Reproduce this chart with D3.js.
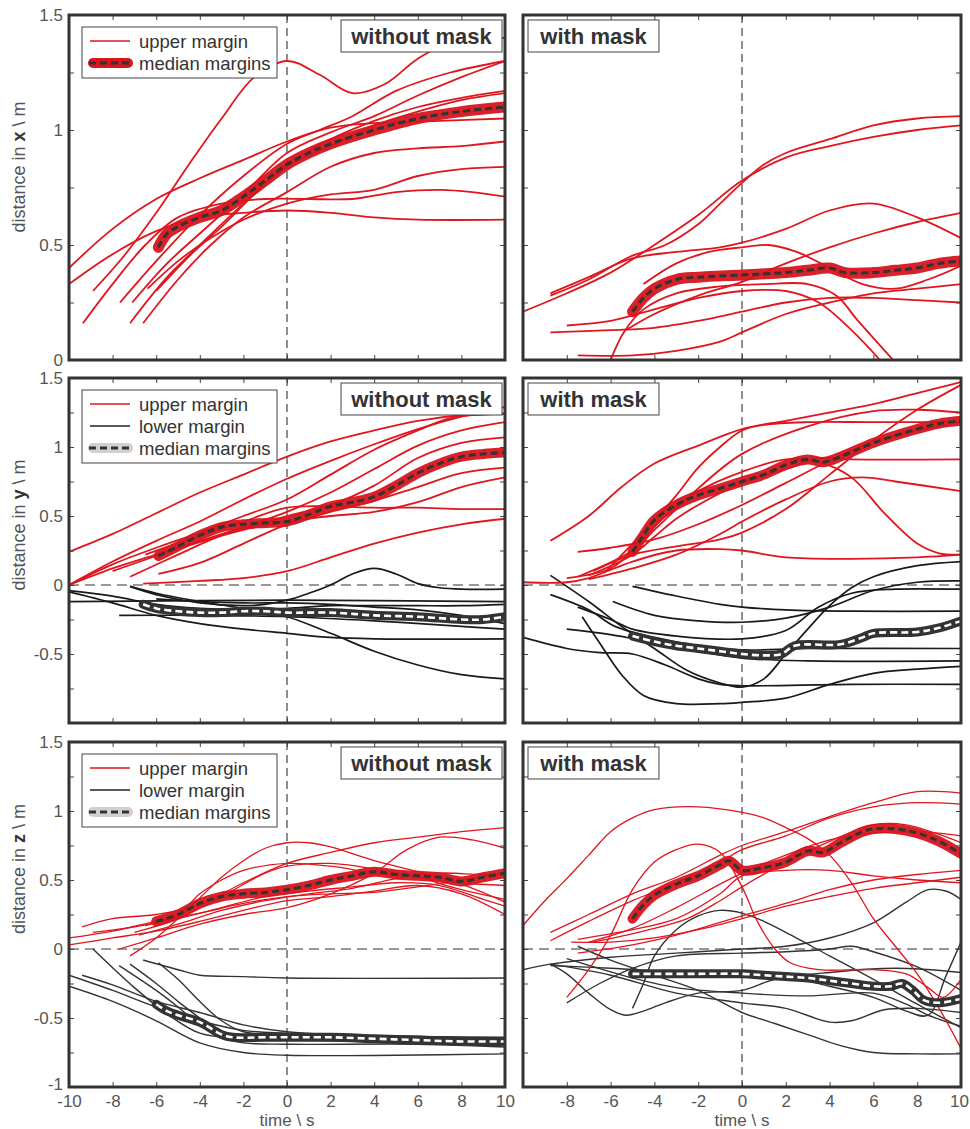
<!DOCTYPE html>
<html>
<head>
<meta charset="utf-8">
<script src="https://cdn.jsdelivr.net/npm/d3@7"></script>
<style>
  body { margin: 0; background: #fff; }
  text { font-family: "Liberation Sans", Arial, sans-serif; }
</style>
</head>
<body>
<svg width="970" height="1129"></svg>
<script>
// ---- tick values / labels ----
const timeTicksMinor = [-8, -6, -4, -2, 0, 2, 4, 6, 8];
const timeLabelsLeft = [-10, -8, -6, -4, -2, 0, 2, 4, 6, 8, 10];
const timeLabelsRight = [-8, -6, -4, -2, 0, 2, 4, 6, 8, 10];
const distTicksTop = [0.25, 0.5, 0.75, 1, 1.25];
const distTicksLow = [-0.75, -0.5, -0.25, 0, 0.25, 0.5, 0.75, 1, 1.25];
const distLabelsTop = [0, 0.5, 1, 1.5];
const distLabelsMid = [-0.5, 0, 0.5, 1, 1.5];
const distLabelsBot = [-1, -0.5, 0, 0.5, 1, 1.5];

// ---- distance in x, without mask ----
const xNoMaskUpper = [
  [[-8.9,0.30],[-7.5,0.45],[-6,0.64],[-4.5,0.85],[-3,1.05],[-1.5,1.23],[0,1.30],[1.5,1.24],[3,1.16],[4.5,1.20],[6,1.31],[7.5,1.38],[10,1.40]],
  [[-10,0.40],[-8,0.57],[-6,0.70],[-4,0.79],[-2,0.87],[0,0.95],[2,1.01],[4,1.03],[7,1.04],[10,1.05]],
  [[-10,0.33],[-8,0.46],[-6,0.56],[-4,0.62],[-2,0.64],[0,0.65],[2,0.64],[4,0.62],[6,0.61],[10,0.61]],
  [[-9.36,0.16],[-8,0.33],[-6.5,0.50],[-5,0.62],[-3,0.68],[-1,0.70],[1,0.70],[3,0.70],[5,0.73],[7,0.74],[8.5,0.73],[10,0.71]],
  [[-7.66,0.25],[-6,0.43],[-4,0.63],[-2,0.80],[0,0.94],[1.5,1.0],[3,1.06],[5,1.17],[7.5,1.25],[10,1.30]],
  [[-7.1,0.25],[-5.5,0.42],[-4,0.55],[-2,0.72],[0,0.90],[2,0.99],[4,1.06],[6,1.15],[8,1.23],[10,1.30]],
  [[-7.2,0.16],[-5.5,0.36],[-4,0.50],[-2,0.68],[0,0.85],[2,0.96],[4,1.04],[6,1.10],[8,1.14],[10,1.17]],
  [[-6.6,0.16],[-5,0.35],[-3.5,0.50],[-2,0.62],[0,0.73],[2,0.84],[4,0.90],[6,0.92],[8,0.93],[10,0.95]],
  [[-6.4,0.31],[-5,0.43],[-3.5,0.53],[-2,0.61],[0,0.68],[2,0.72],[4,0.74],[6,0.80],[8,0.83],[10,0.84]],
  [[-6.0,0.30],[-4.5,0.45],[-3,0.58],[-1.5,0.72],[0,0.84],[2,0.93],[4,1.02],[6,1.08],[8,1.13],[10,1.16]]
];
const xNoMaskMedian = [[-5.9,0.49],[-5.5,0.55],[-5,0.58],[-4,0.62],[-3,0.65],[-2,0.71],[-1,0.78],[0,0.85],[1,0.90],[2,0.94],[4,1.00],[6,1.05],[8,1.08],[10,1.10]];

// ---- distance in x, with mask ----
const xMaskUpper = [
  [[-10,0.21],[-8,0.29],[-6,0.38],[-4,0.50],[-2,0.63],[0,0.78],[2,0.88],[4,0.93],[6,0.97],[8,1.00],[10,1.02]],
  [[-8.75,0.28],[-7,0.35],[-5.1,0.45],[-3.5,0.50],[-2,0.59],[-1,0.68],[0,0.77],[1,0.85],[2,0.90],[4,0.96],[6,1.02],[8,1.05],[10,1.06]],
  [[-8.75,0.29],[-7,0.36],[-5.1,0.44],[-3,0.47],[-1,0.49],[0,0.51],[2,0.57],[4,0.65],[6,0.68],[8,0.62],[10,0.53]],
  [[-5.3,0.13],[-4,0.20],[-2,0.28],[0,0.34],[2,0.42],[4,0.49],[6,0.55],[8,0.60],[10,0.64]],
  [[-4.5,0.33],[-3,0.42],[-1.5,0.47],[0,0.49],[1.2,0.50],[2.5,0.47],[4,0.40],[5.5,0.33],[7,0.31],[8.5,0.35],[10,0.41]],
  [[-8.75,0.12],[-6,0.13],[-4,0.14],[-2,0.17],[0,0.21],[2,0.25],[4,0.27],[6,0.27],[8,0.26],[10,0.25]],
  [[-8,0.15],[-6,0.17],[-4,0.22],[-2,0.27],[0,0.30],[2,0.30],[3.5,0.25],[5,0.13],[6.3,0.0]],
  [[-6,0.0],[-5.4,0.12],[-4.5,0.22],[-3,0.29],[-1,0.32],[1,0.33],[3,0.33],[4.3,0.28],[5.3,0.17],[6.9,0.0]],
  [[-7.5,0.02],[-5,0.02],[-3,0.04],[-1,0.08],[0,0.12],[2,0.20],[4,0.25],[6,0.29],[8,0.31],[10,0.33]]
];
const xMaskMedian = [[-5,0.21],[-4.5,0.27],[-4,0.31],[-3,0.35],[-2,0.36],[0,0.37],[2,0.38],[3,0.39],[4,0.40],[4.7,0.38],[6,0.38],[7,0.39],[8,0.40],[9,0.42],[10,0.43]];

// ---- distance in y, without mask ----
const yNoMaskUpper = [
  [[-10,0.24],[-8,0.37],[-6,0.52],[-4,0.67],[-2,0.80],[0,0.93],[2,1.04],[4,1.12],[6,1.19],[8,1.23],[10,1.24]],
  [[-10,0],[-8,0.17],[-6,0.32],[-4,0.46],[-2,0.62],[0,0.77],[2,0.90],[4,1.02],[6,1.13],[8,1.22],[10,1.29]],
  [[-10,0],[-8,0.15],[-6,0.27],[-4,0.38],[-2,0.50],[0,0.62],[2,0.80],[4,0.98],[6,1.12],[7.5,1.21],[10,1.24]],
  [[-10,0],[-8,0.12],[-6,0.22],[-4,0.32],[-2,0.42],[0,0.53],[2,0.67],[4,0.84],[6,1.01],[8,1.12],[10,1.18]],
  [[-7.2,0.06],[-5,0.22],[-3,0.36],[-1,0.45],[0,0.50],[2,0.58],[4,0.72],[6,0.92],[8,1.03],[10,1.07]],
  [[-5.9,0.08],[-4,0.16],[-2,0.30],[0,0.44],[2,0.53],[4,0.61],[6,0.71],[8,0.81],[10,0.85]],
  [[-8,0.10],[-6,0.21],[-4,0.31],[-2,0.40],[0,0.46],[2,0.50],[4,0.53],[6,0.60],[8,0.71],[10,0.78]],
  [[-6.5,0.22],[-4.5,0.33],[-2,0.46],[0,0.56],[2,0.57],[4,0.56],[6,0.56],[8,0.55],[10,0.55]],
  [[-6.6,0.01],[-4,0.03],[-2,0.05],[0,0.10],[2,0.20],[4,0.30],[6,0.38],[8,0.44],[10,0.48]]
];
const yNoMaskLower = [
  [[-10,-0.12],[0,-0.11],[10,-0.12]],
  [[-7.2,-0.01],[-6,-0.06],[-4,-0.12],[-2,-0.17],[0,-0.23],[2,-0.35],[4,-0.48],[6,-0.58],[8,-0.65],[10,-0.68]],
  [[-7.7,-0.22],[-4,-0.22],[0,-0.23],[4,-0.26],[8,-0.30],[10,-0.32]],
  [[-10,-0.05],[-8,-0.13],[-6,-0.22],[-4,-0.28],[-2,-0.32],[0,-0.35],[2,-0.38],[4,-0.39],[10,-0.39]],
  [[-7.2,-0.01],[-6,-0.07],[-4,-0.13],[-2,-0.15],[-1,-0.14],[0,-0.11],[1,-0.06],[2,0.0],[3,0.08],[4,0.12],[5,0.08],[6,0.01],[7,-0.02],[8,-0.03],[10,-0.03]],
  [[-10,-0.04],[-8,-0.08],[-6,-0.14],[-4,-0.17],[-2,-0.18],[0,-0.17],[2,-0.15],[4,-0.15],[6,-0.15],[8,-0.15],[10,-0.14]],
  [[-6,-0.10],[-4,-0.12],[-2,-0.13],[0,-0.13],[2,-0.14],[4,-0.16],[6,-0.18],[8,-0.22],[10,-0.28]]
];
const yNoMaskMedianUpper = [[-5.9,0.21],[-5,0.28],[-4,0.36],[-3,0.42],[-2,0.44],[-1,0.45],[0,0.46],[1,0.51],[2,0.57],[3,0.60],[4,0.64],[5,0.72],[6,0.81],[7,0.88],[8,0.93],[9,0.95],[10,0.96]];
const yNoMaskMedianLower = [[-6.6,-0.14],[-6,-0.17],[-5,-0.19],[-4,-0.20],[-3,-0.20],[-2,-0.19],[-1,-0.19],[0,-0.20],[2,-0.20],[4,-0.22],[6,-0.23],[8,-0.25],[9,-0.25],[10,-0.23]];

// ---- distance in y, with mask ----
const yMaskUpper = [
  [[-8.75,0.32],[-7,0.50],[-5.5,0.71],[-4,0.88],[-2,1.01],[0,1.13],[2,1.19],[4,1.25],[6,1.31],[8,1.39],[10,1.47]],
  [[-6.2,0.10],[-5,0.30],[-4,0.47],[-3,0.65],[-2,0.85],[-1,1.0],[0,1.12],[1,1.16],[3,1.18],[6,1.18],[10,1.18]],
  [[-8,0.05],[-6,0.12],[-5,0.25],[-4,0.42],[-3,0.57],[-2,0.68],[0,0.82],[2,0.91],[3.5,0.89],[5,0.78],[6.5,0.52],[8,0.30],[9,0.23],[10,0.22]],
  [[-7,0.07],[-5,0.22],[-4,0.35],[-3,0.48],[-2,0.58],[0,0.74],[2,0.84],[3.5,0.92],[5,0.91],[10,0.91]],
  [[-7.5,0.06],[-5,0.25],[-4,0.40],[-3,0.55],[-2,0.70],[0,0.95],[3,1.15],[6,1.26],[8,1.27],[10,1.25]],
  [[-7,0.04],[-5,0.12],[-3,0.22],[-1,0.37],[0,0.46],[2,0.62],[4,0.75],[5.5,0.78],[7,0.75],[10,0.68]],
  [[-6.8,0.10],[-5,0.22],[-3,0.28],[-1,0.33],[0,0.38],[2,0.55],[4,0.80],[6,1.05],[8,1.27],[10,1.45]],
  [[-10,0.02],[-8,0.02],[-7,0.05],[-5,0.17],[-3,0.25],[-1,0.26],[0,0.25],[2,0.20],[5,0.19],[8,0.20],[10,0.22]],
  [[-7.5,0.24],[-6,0.27],[-4,0.33],[-2,0.44],[0,0.58],[2,0.74],[4,0.90],[6,1.04],[8,1.12],[10,1.18]]
];
const yMaskLower = [
  [[-8.75,0.07],[-7,-0.12],[-5.5,-0.30],[-4,-0.46],[-2.5,-0.62],[-1,-0.71],[0,-0.74],[1,-0.68],[2,-0.50],[3,-0.32],[4,-0.15],[5,-0.02],[6,0.06],[8,0.14],[10,0.17]],
  [[-5,-0.01],[-3,-0.08],[-1,-0.14],[0,-0.16],[2,-0.18],[5,-0.19],[10,-0.19]],
  [[-5.9,-0.12],[-4,-0.22],[-2,-0.26],[0,-0.27],[2,-0.24],[4,-0.16],[6,-0.04],[8,0.02],[10,0.03]],
  [[-7.5,-0.16],[-6,-0.25],[-5,-0.32],[-3,-0.37],[0,-0.39],[2,-0.33],[3.5,-0.16],[5,-0.06],[7,-0.03],[10,-0.03]],
  [[-8,-0.32],[-6,-0.36],[-4,-0.42],[-2,-0.48],[0,-0.53],[3,-0.55],[10,-0.55]],
  [[-10,-0.38],[-8,-0.46],[-6.5,-0.49],[-5,-0.50],[-3.5,-0.58],[-2,-0.68],[-1,-0.72],[0,-0.73],[5,-0.72],[10,-0.72]],
  [[-7.3,-0.23],[-6.5,-0.42],[-5.5,-0.65],[-4.5,-0.80],[-3,-0.86],[-1,-0.86],[0,-0.85],[2,-0.82],[4,-0.72],[6,-0.64],[8,-0.61],[10,-0.59]],
  [[-8.75,-0.07],[-7,-0.18],[-5.8,-0.30],[-4,-0.38],[-2,-0.44],[0,-0.47],[3,-0.46],[10,-0.46]]
];
const yMaskMedianUpper = [[-5,0.24],[-4.5,0.36],[-4,0.47],[-3,0.58],[-2,0.65],[-1,0.70],[0,0.75],[1,0.80],[2,0.87],[3,0.91],[3.7,0.89],[4.5,0.93],[6,1.03],[8,1.13],[9,1.17],[10,1.19]];
const yMaskMedianLower = [[-5,-0.37],[-4,-0.41],[-3,-0.44],[-2,-0.46],[-1,-0.48],[0,-0.50],[1,-0.51],[1.8,-0.50],[2.4,-0.44],[4.5,-0.43],[5.5,-0.38],[6,-0.35],[8,-0.34],[9,-0.31],[10,-0.26]];

// ---- distance in z, without mask ----
const zNoMaskUpper = [
  [[-7.2,-0.05],[-6,0.08],[-5,0.22],[-4,0.37],[-3,0.52],[-2,0.64],[-1,0.73],[0,0.77],[1,0.77],[2,0.74],[4,0.64],[6,0.56],[8,0.47],[10,0.34]],
  [[-9.4,0.16],[-8,0.22],[-6,0.25],[-4,0.32],[-2,0.48],[0,0.62],[2,0.70],[4,0.77],[6,0.81],[8,0.85],[10,0.88]],
  [[-7.7,0.0],[-6,0.08],[-4,0.18],[-2,0.25],[0,0.30],[2,0.40],[4,0.55],[5.5,0.72],[7,0.81],[8.5,0.79],[10,0.73]],
  [[-6.5,0.17],[-5,0.25],[-4,0.40],[-3,0.50],[-2,0.57],[0,0.62],[2,0.60],[4,0.55],[6,0.52],[8,0.48],[10,0.46]],
  [[-10,0.08],[-8,0.13],[-6,0.20],[-4,0.26],[-2,0.33],[0,0.38],[2,0.40],[4,0.41],[6,0.45],[8,0.50],[10,0.55]],
  [[-10,0.03],[-8,0.08],[-6,0.13],[-4,0.20],[-2,0.28],[0,0.35],[2,0.38],[4,0.42],[6,0.46],[8,0.40],[10,0.25]],
  [[-8.9,0.12],[-7,0.16],[-5,0.22],[-3,0.30],[-1,0.38],[1,0.42],[3,0.45],[5,0.48],[7,0.46],[9,0.36],[10,0.31]],
  [[-6.8,0.10],[-5,0.18],[-3,0.28],[-1,0.35],[1,0.40],[3,0.44],[5,0.51],[7,0.55],[9,0.54],[10,0.55]],
  [[-7,0.12],[-5,0.22],[-3,0.38],[-1,0.55],[0,0.60],[2,0.62],[4,0.58],[6,0.52],[8,0.43],[10,0.36]]
];
const zNoMaskLower = [
  [[-6.6,-0.08],[-5,-0.15],[-4,-0.19],[-2,-0.20],[0,-0.21],[10,-0.21]],
  [[-10,-0.27],[-8,-0.38],[-6,-0.52],[-4,-0.68],[-2,-0.75],[0,-0.77],[5,-0.77],[10,-0.76]],
  [[-10,-0.19],[-8,-0.30],[-6,-0.42],[-4,-0.52],[-2,-0.59],[0,-0.61],[4,-0.63],[10,-0.64]],
  [[-8.9,0.0],[-7,-0.28],[-5.5,-0.47],[-4,-0.61],[-2,-0.65],[0,-0.66],[5,-0.67],[10,-0.68]],
  [[-9.4,-0.19],[-8,-0.26],[-6,-0.38],[-4,-0.46],[-2,-0.55],[0,-0.60],[4,-0.63],[10,-0.65]],
  [[-7.7,-0.12],[-6,-0.30],[-5,-0.42],[-4,-0.55],[-3,-0.64],[-2,-0.68],[0,-0.69],[6,-0.69],[10,-0.71]],
  [[-7.2,-0.11],[-6,-0.25],[-5,-0.38],[-4,-0.50],[-3,-0.60],[-1,-0.63],[4,-0.64],[10,-0.66]],
  [[-5.9,-0.10],[-5,-0.22],[-4,-0.38],[-3,-0.52],[-2,-0.60],[0,-0.62],[5,-0.63],[10,-0.65]]
];
const zNoMaskMedianUpper = [[-6,0.20],[-5,0.25],[-4,0.33],[-3,0.38],[-2,0.40],[-1,0.41],[0,0.43],[1,0.46],[2,0.50],[3,0.53],[4,0.56],[5,0.54],[6,0.53],[7,0.52],[8,0.49],[9,0.52],[10,0.55]];
const zNoMaskMedianLower = [[-6,-0.40],[-5.5,-0.45],[-5,-0.48],[-4,-0.53],[-3,-0.62],[-2.5,-0.64],[-1,-0.64],[2,-0.64],[4,-0.65],[6,-0.66],[8,-0.67],[10,-0.67]];

// ---- distance in z, with mask ----
const zMaskUpper = [
  [[-10,0.17],[-9,0.35],[-8,0.51],[-7,0.68],[-6,0.85],[-5,0.95],[-4,1.01],[-2,1.03],[0,0.99],[1,0.95],[2,0.88],[3,0.80],[4,0.68],[5,0.48],[6,0.22],[7,0.02],[8,-0.18],[9,-0.43],[10,-0.72]],
  [[-8,-0.35],[-7,-0.15],[-6,0.10],[-5,0.43],[-4,0.63],[-3,0.72],[-2,0.76],[-1,0.70],[0,0.45],[0.7,0.20],[1.5,0.0],[2.2,-0.10],[3.5,-0.15],[6,-0.15],[7.5,-0.18],[8.5,-0.28],[9.2,-0.35],[10,-0.22]],
  [[-8.75,0.12],[-7,0.25],[-5,0.40],[-3,0.52],[-1,0.68],[0,0.75],[2,0.85],[4,0.96],[6,1.06],[8,1.14],[10,1.13]],
  [[-8.75,0.06],[-7,0.20],[-5,0.35],[-3,0.48],[-1,0.63],[0,0.72],[2,0.82],[4,0.95],[6,1.03],[8,1.06],[10,1.05]],
  [[-7,0.05],[-5,0.15],[-3,0.30],[-1,0.47],[0,0.55],[2,0.68],[4,0.79],[6,0.84],[8,0.85],[10,0.82]],
  [[-6.8,0.05],[-4.5,0.13],[-2.5,0.22],[-1,0.35],[0,0.45],[2,0.63],[4,0.78],[6,0.90],[7.5,0.90],[9,0.83],[10,0.77]],
  [[-7.5,0.07],[-5,0.14],[-3,0.22],[-1,0.40],[0,0.53],[2,0.57],[4,0.57],[6,0.53],[8,0.50],[10,0.48]],
  [[-7.8,0.05],[-6,0.05],[-4,0.08],[-2,0.14],[0,0.22],[2,0.31],[4,0.38],[6,0.44],[8,0.48],[10,0.52]],
  [[-7.5,-0.03],[-5,0.03],[-3,0.10],[0,0.24],[2,0.33],[4,0.43],[6,0.50],[8,0.54],[10,0.57]]
];
const zMaskLower = [
  [[-10,-0.15],[-8.75,-0.11],[-6,-0.06],[-3,-0.03],[0,0.0],[2,0.02],[4,0.08],[6,0.19],[7.5,0.34],[8.5,0.43],[9.3,0.42],[10,0.36]],
  [[-8.75,-0.11],[-8,-0.18],[-7,-0.32],[-6,-0.44],[-5.3,-0.48],[-4.5,-0.45],[-3.5,-0.39],[-2,-0.32],[0,-0.30],[1.5,-0.22],[4,-0.17],[7,-0.14],[10,-0.17]],
  [[-5,-0.43],[-4.5,-0.25],[-4,-0.05],[-3,0.14],[-2,0.24],[-1,0.28],[0,0.26],[1,0.20],[2,0.12],[4,-0.05],[6,-0.22],[8,-0.40],[10,-0.57]],
  [[-8,-0.39],[-6.5,-0.25],[-5,-0.14],[-3,-0.05],[0,-0.03],[2,-0.02],[4,0.0],[5,0.02],[6,-0.02],[8,-0.13],[10,-0.30]],
  [[-7.5,0.02],[-6,-0.08],[-4,-0.19],[-2,-0.30],[0,-0.46],[1.5,-0.54],[3,-0.62],[4.5,-0.70],[6,-0.75],[8,-0.76],[10,-0.76]],
  [[-8.75,-0.11],[-6,-0.19],[-3,-0.32],[0,-0.39],[2,-0.43],[4,-0.53],[5,-0.52],[6.5,-0.44],[8,-0.43],[10,-0.46]],
  [[-8,-0.07],[-5,-0.21],[-3,-0.28],[0,-0.32],[3,-0.34],[6,-0.32],[7.5,-0.40],[8.5,-0.48],[10,-0.56]],
  [[-8.75,-0.12],[-6,-0.14],[-3,-0.17],[0,-0.19],[2,-0.20],[4,-0.27],[6,-0.35],[7.5,-0.45],[8.5,-0.48],[9.3,-0.20],[10,0.05]]
];
const zMaskMedianUpper = [[-5,0.22],[-4.5,0.32],[-4,0.39],[-3,0.47],[-2,0.53],[-1,0.61],[-0.6,0.64],[0,0.57],[1,0.59],[2,0.63],[3,0.71],[3.7,0.70],[4.5,0.77],[5.5,0.85],[6,0.87],[7,0.87],[8,0.84],[9,0.78],[10,0.69]];
const zMaskMedianLower = [[-5,-0.18],[-4,-0.18],[-2,-0.18],[0,-0.18],[1,-0.19],[2,-0.20],[3,-0.21],[4,-0.23],[5,-0.25],[6,-0.27],[6.8,-0.27],[7.3,-0.25],[7.8,-0.30],[8.3,-0.37],[9,-0.39],[10,-0.36]];

// ---- layout ----
const svg = d3.select('svg');
const RED = '#e0161f';
const AXIS = '#555';

const cols = [
  { left: 69, right: 505, title: 'without mask' },
  { left: 523, right: 961, title: 'with mask' }
];
const rows = [
  { top: 15, bottom: 360, domain: [0, 1.5], ticks: distTicksTop, labels: distLabelsTop, name: 'x', labelY: 167, hasLower: false, redW: 1.8 },
  { top: 378, bottom: 723, domain: [-1, 1.5], ticks: distTicksLow, labels: distLabelsMid, name: 'y', labelY: 525, hasLower: true, redW: 1.8 },
  { top: 742, bottom: 1087, domain: [-1, 1.5], ticks: distTicksLow, labels: distLabelsBot, name: 'z', labelY: 869, hasLower: true, redW: 1.3 }
];
const panels = [
  { r: 0, c: 0, upper: xNoMaskUpper, lower: [], medU: xNoMaskMedian, medL: null },
  { r: 0, c: 1, upper: xMaskUpper, lower: [], medU: xMaskMedian, medL: null },
  { r: 1, c: 0, upper: yNoMaskUpper, lower: yNoMaskLower, medU: yNoMaskMedianUpper, medL: yNoMaskMedianLower },
  { r: 1, c: 1, upper: yMaskUpper, lower: yMaskLower, medU: yMaskMedianUpper, medL: yMaskMedianLower },
  { r: 2, c: 0, upper: zNoMaskUpper, lower: zNoMaskLower, medU: zNoMaskMedianUpper, medL: zNoMaskMedianLower },
  { r: 2, c: 1, upper: zMaskUpper, lower: zMaskLower, medU: zMaskMedianUpper, medL: zMaskMedianLower }
];

panels.forEach((p, i) => {
  const row = rows[p.r], col = cols[p.c];
  const x = d3.scaleLinear().domain([-10, 10]).range([col.left, col.right]);
  const y = d3.scaleLinear().domain(row.domain).range([row.bottom, row.top]);
  const line = d3.line().x(d => x(d[0])).y(d => y(d[1])).curve(d3.curveCatmullRom.alpha(0.5));

  const g = svg.append('g');
  svg.append('clipPath').attr('id', 'clip' + i)
    .append('rect').attr('x', col.left).attr('y', row.top)
    .attr('width', col.right - col.left).attr('height', row.bottom - row.top);
  const plot = g.append('g').attr('clip-path', `url(#clip${i})`);

  // reference lines
  plot.append('line')
    .attr('x1', x(0)).attr('x2', x(0)).attr('y1', row.top).attr('y2', row.bottom)
    .attr('stroke', '#444').attr('stroke-width', 1.2).attr('stroke-dasharray', '8,5');
  if (row.domain[0] < 0) {
    plot.append('line')
      .attr('x1', col.left).attr('x2', col.right).attr('y1', y(0)).attr('y2', y(0))
      .attr('stroke', '#777').attr('stroke-width', 1.4).attr('stroke-dasharray', '10,6');
  }

  plot.selectAll('.lower').data(p.lower).enter().append('path')
    .attr('d', line).attr('fill', 'none')
    .attr('stroke', p.r === 2 ? '#333' : '#1a1a1a').attr('stroke-width', p.r === 2 ? 1.4 : 1.7);
  plot.selectAll('.upper').data(p.upper).enter().append('path')
    .attr('d', line).attr('fill', 'none')
    .attr('stroke', RED).attr('stroke-width', row.redW);

  if (p.medL) {
    plot.append('path').attr('d', line(p.medL)).attr('fill', 'none')
      .attr('stroke', '#333').attr('stroke-width', 9).attr('stroke-linecap', 'round');
    plot.append('path').attr('d', line(p.medL)).attr('fill', 'none')
      .attr('stroke', '#fff').attr('stroke-width', 2.6).attr('stroke-dasharray', '7,4');
  }
  plot.append('path').attr('d', line(p.medU)).attr('fill', 'none')
    .attr('stroke', '#d8151d').attr('stroke-width', p.r === 0 ? 11 : 10).attr('stroke-linecap', 'round')
    .attr('stroke-opacity', 0.95);
  plot.append('path').attr('d', line(p.medU)).attr('fill', 'none')
    .attr('stroke', '#333').attr('stroke-width', 3).attr('stroke-dasharray', '7,4');

  // inner ticks on all sides
  const tickStyle = sel => {
    sel.select('.domain').remove();
    sel.selectAll('.tick line').attr('stroke', '#444').attr('stroke-width', 1);
  };
  g.append('g').attr('transform', `translate(${col.left},0)`)
    .call(d3.axisLeft(y).tickValues(row.ticks).tickSize(-5).tickFormat('')).call(tickStyle);
  g.append('g').attr('transform', `translate(${col.right},0)`)
    .call(d3.axisRight(y).tickValues(row.ticks).tickSize(-5).tickFormat('')).call(tickStyle);
  g.append('g').attr('transform', `translate(0,${row.top})`)
    .call(d3.axisTop(x).tickValues(timeTicksMinor).tickSize(-5).tickFormat('')).call(tickStyle);
  g.append('g').attr('transform', `translate(0,${row.bottom})`)
    .call(d3.axisBottom(x).tickValues(timeTicksMinor).tickSize(-5).tickFormat('')).call(tickStyle);

  // tick labels
  const labelStyle = sel => {
    sel.select('.domain').remove();
    sel.selectAll('.tick line').remove();
    sel.selectAll('text').attr('fill', AXIS).style('font-size', '17px')
      .style('font-family', '"Liberation Sans", Arial, sans-serif');
  };
  if (p.c === 0) {
    const yl = g.append('g').attr('transform', `translate(${col.left},0)`)
      .call(d3.axisLeft(y).tickValues(row.labels).tickSize(0).tickPadding(6).tickFormat(d => String(d)))
      .call(labelStyle);
    // the lowest label of the bottom row sits a little higher, clear of the time labels
    yl.selectAll('.tick').filter(d => d === -1).select('text').attr('y', -3);
    svg.append('text')
      .attr('transform', `translate(25,${row.labelY}) rotate(-90)`)
      .attr('text-anchor', 'middle').attr('fill', AXIS).style('font-size', '18px')
      .call(t => {
        t.append('tspan').text('distance in ');
        t.append('tspan').attr('font-weight', 'bold').attr('fill', '#333').text(row.name);
        t.append('tspan').text(' \\ m');
      });
  }
  if (p.r === 2) {
    const xl = g.append('g').attr('transform', `translate(0,${row.bottom})`)
      .call(d3.axisBottom(x).tickValues(p.c === 0 ? timeLabelsLeft : timeLabelsRight)
        .tickSize(0).tickPadding(8).tickFormat(d => String(d)))
      .call(labelStyle);
    if (p.c === 1) {
      xl.selectAll('.tick').filter(d => d === 10).select('text').attr('x', -2);
    }
    svg.append('text').attr('x', x(0)).attr('y', 1126)
      .attr('text-anchor', 'middle').attr('fill', AXIS).style('font-size', '17px')
      .text('time \\ s');
  }

  // frame
  g.append('rect').attr('x', col.left).attr('y', row.top)
    .attr('width', col.right - col.left).attr('height', row.bottom - row.top)
    .attr('fill', 'none').attr('stroke', '#333').attr('stroke-width', 3);

  // title box
  const bw = p.c === 0 ? 161 : 131;
  const bx = p.c === 0 ? col.right - bw - 3 : col.left + 5;
  g.append('rect').attr('x', bx).attr('y', row.top + 5).attr('width', bw).attr('height', 32)
    .attr('fill', '#fff').attr('stroke', '#444').attr('stroke-width', 1);
  g.append('text').attr('x', bx + bw / 2).attr('y', row.top + 29)
    .attr('text-anchor', 'middle').attr('font-weight', 'bold').attr('fill', '#333')
    .style('font-size', '22px').text(col.title);

  // legend
  if (p.c === 0) {
    const entries = row.hasLower ? ['upper', 'lower', 'median'] : ['upper', 'median'];
    const names = { upper: 'upper margin', lower: 'lower margin', median: 'median margins' };
    const ly = row.top + 12;
    g.append('rect').attr('x', 82).attr('y', ly).attr('width', 195)
      .attr('height', entries.length * 22 + 7)
      .attr('fill', '#fff').attr('stroke', '#444').attr('stroke-width', 1);
    entries.forEach((e, k) => {
      const cy = ly + 14 + k * 22;
      if (e === 'median') {
        g.append('line').attr('x1', 93).attr('x2', 128).attr('y1', cy).attr('y2', cy)
          .attr('stroke', row.hasLower ? '#d0d0d0' : '#d8151d').attr('stroke-width', 10)
          .attr('stroke-linecap', 'round');
        g.append('line').attr('x1', 89).attr('x2', 132).attr('y1', cy).attr('y2', cy)
          .attr('stroke', '#333').attr('stroke-width', 3).attr('stroke-dasharray', '7,4');
      } else {
        g.append('line').attr('x1', 90).attr('x2', 130).attr('y1', cy).attr('y2', cy)
          .attr('stroke', e === 'upper' ? RED : '#222').attr('stroke-width', 1.5);
      }
      g.append('text').attr('x', 139).attr('y', cy + 6.5).attr('fill', '#333')
        .style('font-size', '18.5px').text(names[e]);
    });
  }
});
</script>
</body>
</html>
